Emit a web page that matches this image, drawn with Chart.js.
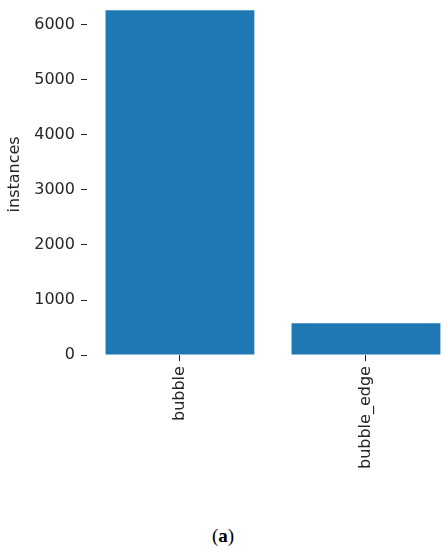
<!DOCTYPE html>
<html>
<head>
<meta charset="utf-8">
<script src="https://cdn.jsdelivr.net/npm/chart.js@4/dist/chart.umd.min.js"></script>
<style>
  html, body { margin: 0; padding: 0; background: #fff; }
  #page { position: relative; width: 446px; height: 550px; overflow: hidden; }
  #holder { position: absolute; left: -1px; top: -22px; width: 460px; height: 496px; }
  #caption { position: absolute; left: 0; width: 446px; top: 525px; text-align: center;
             font-family: "Liberation Serif", "DejaVu Serif", serif; font-size: 19px; color: #000; }
</style>
</head>
<body>
<div id="page">
  <div id="holder"><canvas id="bars"></canvas></div>
  <div id="caption">(<b>a</b>)</div>
</div>
<script>
// data
const categories = ['bubble', 'bubble_edge'];
const instances = [6260, 580];
const yTickValues = [0, 1000, 2000, 3000, 4000, 5000, 6000];

const ink = '#262626';
const font = { family: 'DejaVu Sans', size: 16 };

new Chart(document.getElementById('bars'), {
  type: 'bar',
  data: {
    labels: categories,
    datasets: [{
      data: instances,
      backgroundColor: '#1f77b4',
      borderWidth: 0,
      barPercentage: 0.8,
      categoryPercentage: 1
    }]
  },
  options: {
    responsive: true,
    maintainAspectRatio: false,
    animation: false,
    plugins: { legend: { display: false }, tooltip: { enabled: false } },
    layout: { padding: 0 },
    scales: {
      x: {
        offset: true,
        border: { display: false },
        grid: { offset: false, drawOnChartArea: false, drawTicks: true, tickLength: 6, color: ink, lineWidth: 1 },
        ticks: { color: ink, font: font, autoSkip: false, minRotation: 90, maxRotation: 90, padding: 5 }
      },
      y: {
        min: 0,
        max: 6562,
        border: { display: false },
        grid: { drawOnChartArea: false, drawTicks: true, tickLength: 6, color: ink, lineWidth: 1 },
        afterBuildTicks: function (scale) {
          scale.ticks = yTickValues.map(v => ({ value: v }));
        },
        ticks: { color: ink, font: font, padding: 6, callback: v => String(v) },
        title: { display: true, text: 'instances', color: ink, font: font, padding: { top: 6, bottom: 4 } }
      }
    }
  }
});
</script>
</body>
</html>
